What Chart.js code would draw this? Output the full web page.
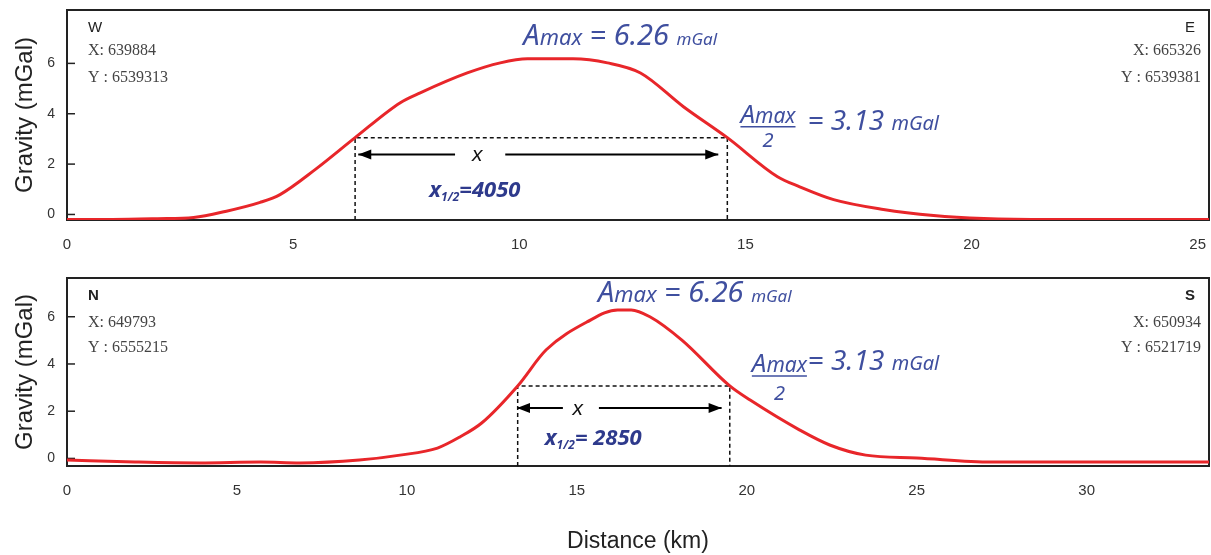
<!DOCTYPE html>
<html>
<head>
<meta charset="utf-8">
<script src="https://cdn.jsdelivr.net/npm/chart.js@4"></script>
<style>
body { margin: 0; background: #fff; overflow: hidden; }
#wrap { position: relative; width: 1211px; height: 555px; }
#topChart { position: absolute; left: 0; top: 0; }
#botChart { position: absolute; left: 0; top: 260px; }
</style>
</head>
<body>
<div id="wrap">
  <canvas id="topChart" width="1211" height="260"></canvas>
  <canvas id="botChart" width="1211" height="295"></canvas>
</div>
<script>
// --------------------------
// W - E profile (top panel)
// --------------------------
const weDist = [0, 1, 2, 2.8, 3.5, 4.27, 4.71, 5.5, 6.37, 7.37, 7.81, 8.85, 9.58, 10.18, 11.19, 11.95, 12.68, 13.63, 14.6, 15.71, 16.2, 16.95, 18.05, 19.16, 20.27, 21.75, 25.25];
const weGrav = [-0.2, -0.2, -0.17, -0.12, 0.12, 0.48, 0.79, 1.8, 3.05, 4.44, 4.83, 5.62, 6.02, 6.18, 6.18, 6.02, 5.62, 4.28, 3.05, 1.5, 1.1, 0.59, 0.2, -0.04, -0.16, -0.2, -0.2];

// --------------------------
// N - S profile (bottom panel)
// --------------------------
const nsDist = [0, 2, 3.9, 5.7, 6.85, 8.6, 9.8, 10.9, 11.56, 12.2, 13.26, 14.1, 15.3, 16.2, 16.6, 17.15, 18.1, 19.5, 20.1, 21.56, 22.44, 23.5, 25.0, 27.2, 33.6];
const nsGrav = [-0.07, -0.15, -0.19, -0.15, -0.19, -0.07, 0.14, 0.44, 0.91, 1.5, 3.07, 4.6, 5.78, 6.29, 6.29, 6.0, 5.0, 3.07, 2.47, 1.2, 0.57, 0.14, 0.02, -0.15, -0.15];

// tick labels
const weTicks = [0, 5, 10, 15, 20, 25];
const nsTicks = [0, 5, 10, 15, 20, 25, 30];
const gravTicks = [0, 2, 4, 6];

// half amplitude markers (km / mGal)
const weHalfX = [6.37, 14.6];
const weHalfY = 3.05;
const nsHalfX = [13.26, 19.5];
const nsHalfY = 3.07;

// width arrows: left piece, right piece, level
const weArrowL = [6.44, 8.58];
const weArrowR = [9.69, 14.4];
const weArrowY = 2.38;
const nsArrowL = [13.24, 14.59];
const nsArrowR = [15.65, 19.26];
const nsArrowY = 2.14;

const SANS = '"Liberation Sans", Arial, sans-serif';
const SERIF = '"Liberation Serif", "Times New Roman", serif';
const ANN = '"Noto Sans", "Open Sans", sans-serif';
const BLUE = '#3f4f9f';
const DARKBLUE = '#2e3a8c';
const RED = '#e8262a';

function pts(xs, ys) {
    let out = [];
    for (let i = 0; i < xs.length; i++) out.push({x: xs[i], y: ys[i]});
    return out;
}

function runs(ctx, x, y, parts) {
    parts.forEach(function (p) {
        ctx.font = p[1];
        ctx.fillText(p[0], x, y + (p[2] || 0));
        x += ctx.measureText(p[0]).width;
    });
    return x;
}

// box, inward ticks, arrowheads
const frame = {
    id: 'frame',
    beforeDatasetsDraw(chart) {
        const ctx = chart.ctx, a = chart.chartArea, y = chart.scales.y;
        ctx.save();
        ctx.strokeStyle = '#222';
        ctx.lineWidth = 2;
        ctx.strokeRect(a.left, a.top, a.right - a.left, a.bottom - a.top);
        ctx.lineWidth = 1.5;
        gravTicks.forEach(function (v) {
            const py = y.getPixelForValue(v);
            ctx.beginPath();
            ctx.moveTo(a.left, py);
            ctx.lineTo(a.left + 8, py);
            ctx.stroke();
        });
        ctx.restore();
    },
    afterDatasetsDraw(chart) {
        const ctx = chart.ctx;
        ctx.save();
        ctx.fillStyle = '#000';
        chart.data.datasets.forEach(function (ds, i) {
            if (!ds.arrowAt) return;
            const pts = chart.getDatasetMeta(i).data;
            const tip = ds.arrowAt == 'start' ? pts[0] : pts[pts.length - 1];
            const dir = ds.arrowAt == 'start' ? 1 : -1;
            ctx.beginPath();
            ctx.moveTo(tip.x, tip.y);
            ctx.lineTo(tip.x + dir * 13, tip.y - 5);
            ctx.lineTo(tip.x + dir * 13, tip.y + 5);
            ctx.closePath();
            ctx.fill();
        });
        ctx.restore();
    }
};

// texts of a panel
function notes(info) {
    return {
        id: 'notes',
        afterDraw(chart) {
            const ctx = chart.ctx, a = chart.chartArea;
            const sx = chart.scales.x, sy = chart.scales.y;
            ctx.save();
            ctx.textBaseline = 'alphabetic';

            // corner labels
            ctx.fillStyle = '#222';
            ctx.textAlign = 'left';
            ctx.font = (info.bold ? 'bold ' : '') + '15px ' + SANS;
            ctx.fillText(info.left[0], a.left + 21, a.top + 22);
            ctx.fillStyle = '#444';
            ctx.font = '16px ' + SERIF;
            ctx.fillText(info.left[1], a.left + 21, a.top + info.rows[0]);
            ctx.fillText(info.left[2], a.left + 21, a.top + info.rows[1]);
            ctx.textAlign = 'right';
            ctx.fillStyle = '#222';
            ctx.font = (info.bold ? 'bold ' : '') + '15px ' + SANS;
            ctx.fillText(info.right[0], a.right - 14, a.top + 22);
            ctx.fillStyle = '#444';
            ctx.font = '16px ' + SERIF;
            ctx.fillText(info.right[1], a.right - 8, a.top + info.rows[0]);
            ctx.fillText(info.right[2], a.right - 8, a.top + info.rows[1]);

            // Amax
            ctx.textAlign = 'left';
            ctx.fillStyle = BLUE;
            runs(ctx, sx.getPixelForValue(info.amax[0]), sy.getPixelForValue(info.amax[1]), [
                ['A', 'italic 29px ' + ANN],
                ['max', 'italic 22px ' + ANN],
                [' = 6.26 ', 'italic 29px ' + ANN],
                ['mGal', 'italic 17px ' + ANN]
            ]);

            // Amax / 2
            const fx = sx.getPixelForValue(info.frac[0]), fy = sy.getPixelForValue(info.frac[1]);
            const fEnd = runs(ctx, fx, fy, [
                ['A', 'italic 26px ' + ANN],
                ['max', 'italic 21px ' + ANN]
            ]);
            ctx.strokeStyle = BLUE;
            ctx.lineWidth = 1.5;
            ctx.beginPath();
            ctx.moveTo(fx, fy + 4);
            ctx.lineTo(fEnd, fy + 4);
            ctx.stroke();
            ctx.textAlign = 'center';
            ctx.font = 'italic 20px ' + ANN;
            ctx.fillText('2', (fx + fEnd) / 2, fy + info.twoDy);
            ctx.textAlign = 'left';
            runs(ctx, sx.getPixelForValue(info.half[0]), sy.getPixelForValue(info.half[1]), [
                ['= 3.13 ', 'italic 28px ' + ANN],
                ['mGal', 'italic 20px ' + ANN]
            ]);

            // x label on the arrow
            ctx.fillStyle = '#111';
            ctx.textAlign = 'center';
            ctx.textBaseline = 'middle';
            ctx.font = 'italic 21px ' + SANS;
            ctx.fillText('x', sx.getPixelForValue(info.xlab[0]), sy.getPixelForValue(info.xlab[1]) + 1);

            // x 1/2
            ctx.textAlign = 'left';
            ctx.textBaseline = 'alphabetic';
            ctx.fillStyle = DARKBLUE;
            runs(ctx, sx.getPixelForValue(info.xhalf[0]), sy.getPixelForValue(info.xhalf[1]), [
                ['x', 'italic bold 22px ' + ANN],
                ['1/2', 'italic bold 12px ' + ANN, 4],
                [info.xhalfText, 'italic bold 22px ' + ANN]
            ]);
            ctx.restore();
        }
    };
}

function datasets(xs, ys, halfX, halfY, arrL, arrR, arrY, yMin) {
    return [
        {
            data: pts(xs, ys),
            showLine: true,
            borderColor: RED,
            borderWidth: 3,
            pointRadius: 0,
            cubicInterpolationMode: 'monotone'
        },
        {
            data: [{x: halfX[0], y: yMin}, {x: halfX[0], y: halfY}, {x: halfX[1], y: halfY}, {x: halfX[1], y: yMin}],
            showLine: true,
            borderColor: '#111',
            borderWidth: 1.5,
            borderDash: [4, 3],
            pointRadius: 0,
            tension: 0
        },
        {
            data: [{x: arrL[0], y: arrY}, {x: arrL[1], y: arrY}],
            showLine: true, borderColor: '#000', borderWidth: 2, pointRadius: 0, arrowAt: 'start'
        },
        {
            data: [{x: arrR[0], y: arrY}, {x: arrR[1], y: arrY}],
            showLine: true, borderColor: '#000', borderWidth: 2, pointRadius: 0, arrowAt: 'end'
        }
    ];
}

function options(xMax, yMin, yMax, xTicks, padTop, xHeight, showDistance) {
    return {
        responsive: false,
        animation: false,
        layout: {padding: {top: padTop, right: 2, left: 0, bottom: 0}},
        plugins: {legend: {display: false}, tooltip: {enabled: false}},
        scales: {
            x: {
                type: 'linear',
                min: 0,
                max: xMax,
                grid: {display: false, drawTicks: false},
                border: {display: false},
                afterFit: function (s) {
                    s.height = xHeight;
                    s.paddingLeft = 0;
                    s.paddingRight = 0;
                },
                afterBuildTicks: function (s) { s.ticks = xTicks.map(function (v) { return {value: v}; }); },
                ticks: {color: '#333', font: {family: SANS, size: 15}, padding: 16, maxRotation: 0, autoSkip: false},
                title: {
                    display: showDistance,
                    text: 'Distance (km)',
                    color: '#222',
                    font: {family: SANS, size: 23},
                    padding: {top: 0, bottom: 0}
                }
            },
            y: {
                min: yMin,
                max: yMax,
                grid: {display: false, drawTicks: false},
                border: {display: false},
                afterFit: function (s) {
                    s.width = 67;
                    s.paddingTop = 0;
                    s.paddingBottom = 0;
                },
                afterBuildTicks: function (s) { s.ticks = gravTicks.map(function (v) { return {value: v}; }); },
                ticks: {color: '#333', font: {family: SANS, size: 14}, padding: 12},
                title: {
                    display: true,
                    text: 'Gravity (mGal)',
                    color: '#222',
                    font: {family: SANS, size: 24},
                    padding: {top: 11, bottom: 0}
                }
            }
        }
    };
}

// top chart
const weMin = -0.22, weMax = 8.12;
new Chart(document.getElementById('topChart'), {
    type: 'scatter',
    data: {datasets: datasets(weDist, weGrav, weHalfX, weHalfY, weArrowL, weArrowR, weArrowY, weMin)},
    options: options(25.25, weMin, weMax, weTicks, 10, 40, false),
    plugins: [frame, notes({
        left: ['W', 'X: 639884', 'Y : 6539313'],
        right: ['E', 'X: 665326', 'Y : 6539381'],
        rows: [45, 72],
        bold: false,
        amax: [10.09, 6.73],
        frac: [14.89, 3.64],
        twoDy: 24,
        half: [16.37, 3.37],
        xlab: [9.07, 2.38],
        xhalf: [8.01, 0.71],
        xhalfText: '=4050'
    })]
});

// bottom chart
const nsMin = -0.32, nsMax = 7.64;
new Chart(document.getElementById('botChart'), {
    type: 'scatter',
    data: {datasets: datasets(nsDist, nsGrav, nsHalfX, nsHalfY, nsArrowL, nsArrowR, nsArrowY, nsMin)},
    options: options(33.6, nsMin, nsMax, nsTicks, 18, 89, true),
    plugins: [frame, notes({
        left: ['N', 'X: 649793', 'Y : 6555215'],
        right: ['S', 'X: 650934', 'Y : 6521719'],
        rows: [49, 74],
        bold: true,
        amax: [15.62, 6.63],
        frac: [20.15, 3.66],
        twoDy: 28,
        half: [21.79, 3.75],
        xlab: [15.03, 2.14],
        xhalf: [14.06, 0.57],
        xhalfText: '= 2850'
    })]
});
</script>
</body>
</html>
